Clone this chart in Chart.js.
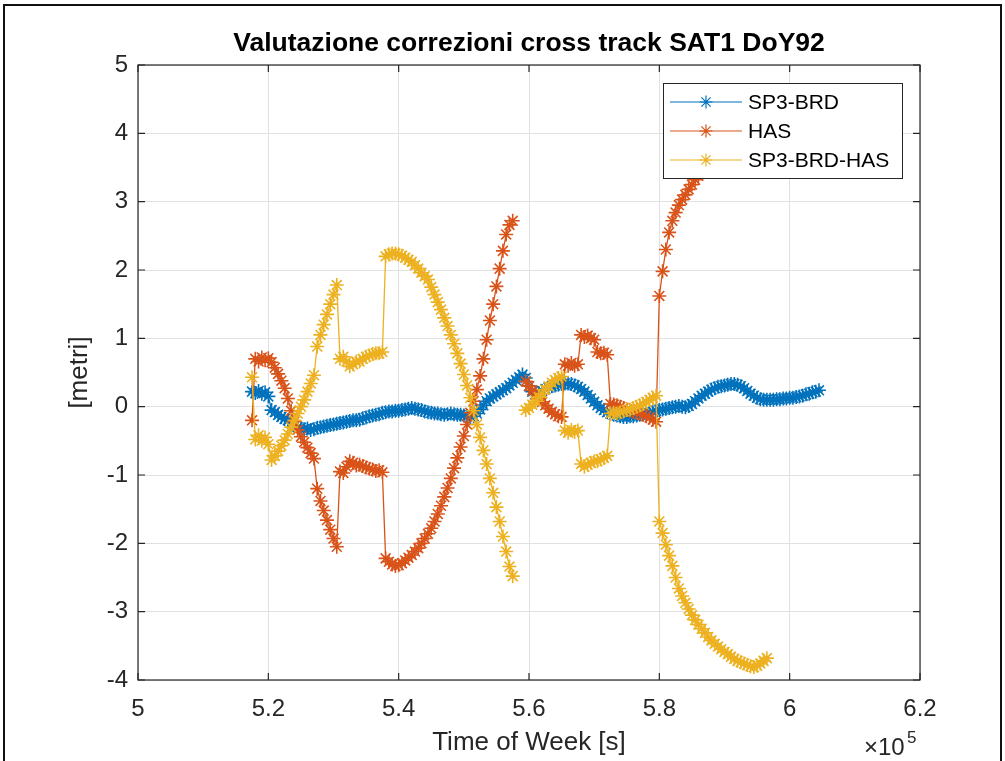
<!DOCTYPE html>
<html>
<head>
<meta charset="utf-8">
<script src="https://cdn.jsdelivr.net/npm/chart.js@4.4.1/dist/chart.umd.min.js"></script>
<style>
    html, body { margin: 0; padding: 0; background: #ffffff; }
    #wrap { width: 1005px; height: 761px; }
</style>
</head>
<body>
<div id="wrap">
    <canvas id="crossTrackChart" width="1005" height="761"></canvas>
</div>
<script>

// time of week [s]
let tow = [
    517500, 518000, 518500, 519000, 519500, 520000, 520500, 521000, 521500, 522000,
    522500, 523000, 523500, 524000, 524500, 525000, 525500, 526000, 526500, 527000,
    527500, 528000, 528500, 529000, 529500, 530000, 530500, 531000, 531500, 532000,
    532500, 533000, 533500, 534000, 534500, 535000, 535500, 536000, 536500, 537000,
    537500, 538000, 538500, 539000, 539500, 540000, 540500, 541000, 541500, 542000,
    542500, 543000, 543500, 544000, 544500, 545000, 545500, 546000, 546500, 547000,
    547500, 548000, 548500, 549000, 549500, 550000, 550500, 551000, 551500, 552000,
    552500, 553000, 553500, 554000, 554500, 555000, 555500, 556000, 556500, 557000,
    557500, 558000, 558500, 559000, 559500, 560000, 560500, 561000, 561500, 562000,
    562500, 563000, 563500, 564000, 564500, 565000, 565500, 566000, 566500, 567000,
    567500, 568000, 568500, 569000, 569500, 570000, 570500, 571000, 571500, 572000,
    572500, 573000, 573500, 574000, 574500, 575000, 575500, 576000, 576500, 577000,
    577500, 578000, 578500, 579000, 579500, 580000, 580500, 581000, 581500, 582000,
    582500, 583000, 583500, 584000, 584500, 585000, 585500, 586000, 586500, 587000,
    587500, 588000, 588500, 589000, 589500, 590000, 590500, 591000, 591500, 592000,
    592500, 593000, 593500, 594000, 594500, 595000, 595500, 596000, 596500, 597000,
    597500, 598000, 598500, 599000, 599500, 600000, 600500, 601000, 601500, 602000,
    602500, 603000, 603500, 604000, 604500
];

// SP3-BRD [m]
let sp3Brd = [
    0.22, 0.20, 0.23, 0.19, 0.21, 0.15, -0.05, -0.08, -0.12, -0.15,
    -0.18, -0.20, -0.24, -0.27, -0.30, -0.31, -0.33, -0.32, -0.34, -0.33,
    -0.31, -0.30, -0.29, -0.28, -0.27, -0.26, -0.25, -0.24, -0.23, -0.22,
    -0.21, -0.20, -0.20, -0.19, -0.17, -0.16, -0.14, -0.13, -0.12, -0.11,
    -0.09, -0.08, -0.07, -0.07, -0.06, -0.06, -0.05, -0.04, -0.03, -0.02,
    -0.03, -0.04, -0.05, -0.07, -0.08, -0.09, -0.10, -0.10, -0.11, -0.12,
    -0.11, -0.10, -0.11, -0.12, -0.12, -0.13, -0.14, -0.15, -0.14, -0.10,
    -0.04, 0.02, 0.08, 0.12, 0.15, 0.18, 0.21, 0.24, 0.27, 0.31,
    0.35, 0.39, 0.43, 0.47, 0.42, 0.30, 0.22, 0.18, 0.20, 0.23,
    0.26, 0.28, 0.30, 0.31, 0.32, 0.33, 0.34, 0.34, 0.33, 0.31,
    0.29, 0.26, 0.22, 0.17, 0.12, 0.07, 0.02, -0.02, -0.05, -0.08,
    -0.10, -0.12, -0.13, -0.14, -0.15, -0.15, -0.14, -0.14, -0.13, -0.12,
    -0.11, -0.10, -0.09, -0.08, -0.06, -0.05, -0.04, -0.03, -0.02, -0.01,
    0.00, 0.01, 0.00, -0.01, 0.01, 0.04, 0.08, 0.12, 0.16, 0.19,
    0.22, 0.25, 0.27, 0.29, 0.30, 0.31, 0.32, 0.33, 0.33, 0.32,
    0.30, 0.27, 0.23, 0.19, 0.16, 0.13, 0.11, 0.10, 0.10, 0.10,
    0.10, 0.11, 0.11, 0.12, 0.12, 0.13, 0.13, 0.14, 0.15, 0.16,
    0.18, 0.19, 0.21, 0.22, 0.24
];

// HAS [m]
let has = [
    -0.20, 0.70, 0.66, 0.72, 0.68, 0.71, 0.65, 0.57, 0.48, 0.38,
    0.27, 0.12, -0.06, -0.22, -0.34, -0.44, -0.52, -0.60, -0.68, -0.76,
    -1.20, -1.38, -1.52, -1.66, -1.80, -1.93, -2.05, -0.95, -0.97, -0.88,
    -0.80, -0.82, -0.86, -0.85, -0.87, -0.89, -0.91, -0.92, -0.94, -0.93,
    -0.96, -2.22, -2.27, -2.31, -2.33, -2.32, -2.29, -2.25, -2.21, -2.17,
    -2.12, -2.07, -2.00, -1.93, -1.86, -1.78, -1.68, -1.57, -1.45, -1.32,
    -1.19, -1.05, -0.90, -0.75, -0.59, -0.43, -0.26, -0.09, 0.08, 0.25,
    0.45, 0.70, 0.98, 1.26, 1.50, 1.76, 2.02, 2.28, 2.52, 2.66,
    2.72, null, null, null, 0.37, 0.30, 0.24, 0.18, 0.12, 0.07,
    0.02, -0.03, -0.08, -0.11, -0.14, -0.15, 0.62, 0.60, 0.64, 0.60,
    0.62, 1.05, 1.02, 1.04, 1.00, 0.98, 0.80, 0.78, 0.79, 0.76,
    0.04, 0.03, 0.02, 0.00, -0.02, -0.04, -0.06, -0.07, -0.09, -0.10,
    -0.12, -0.14, -0.16, -0.19, -0.22, 1.62, 1.98, 2.30, 2.55, 2.72,
    2.84, 2.95, 3.03, 3.10, 3.18, 3.25, 3.32, 3.38, 3.44, 3.50,
    3.55, 3.60, 3.65, 3.70, 3.74, 3.78, 3.82, 3.85, 3.88, 3.91,
    3.93, 3.95, 3.97, 3.98, 3.98, 3.97, 3.94, 3.90, 3.86, null,
    null, null, null, null, null, null, null, null, null, null,
    null, null, null, null, null
];

// SP3-BRD-HAS [m]
let sp3BrdHas = [
    0.43, -0.48, -0.42, -0.50, -0.45, -0.55, -0.78, -0.72, -0.65, -0.57,
    -0.49, -0.40, -0.30, -0.20, -0.10, 0.00, 0.10, 0.22, 0.34, 0.46,
    0.88, 1.05, 1.20, 1.35, 1.50, 1.64, 1.78, 0.70, 0.73, 0.66,
    0.59, 0.62, 0.66, 0.66, 0.70, 0.73, 0.75, 0.77, 0.78, 0.78,
    0.80, 2.20, 2.23, 2.24, 2.24, 2.23, 2.21, 2.18, 2.15, 2.12,
    2.07, 2.02, 1.96, 1.91, 1.86, 1.75, 1.64, 1.53, 1.42, 1.30,
    1.18, 1.05, 0.92, 0.78, 0.63, 0.47, 0.31, 0.13, -0.06, -0.26,
    -0.45, -0.64, -0.84, -1.05, -1.26, -1.47, -1.68, -1.90, -2.12, -2.34,
    -2.48, null, null, null, -0.05, -0.02, 0.03, 0.08, 0.14, 0.19,
    0.25, 0.30, 0.35, 0.39, 0.42, 0.44, -0.35, -0.38, -0.34, -0.37,
    -0.35, -0.84, -0.88, -0.85, -0.82, -0.80, -0.80, -0.77, -0.75, -0.72,
    -0.10, -0.09, -0.10, -0.08, -0.07, -0.05, -0.04, -0.02, 0.00, 0.02,
    0.04, 0.07, 0.10, 0.13, 0.16, -1.68, -1.85, -2.02, -2.18, -2.33,
    -2.50, -2.66, -2.77, -2.87, -2.96, -3.05, -3.12, -3.19, -3.25, -3.31,
    -3.37, -3.42, -3.47, -3.51, -3.55, -3.59, -3.62, -3.66, -3.69, -3.72,
    -3.74, -3.76, -3.78, -3.80, -3.81, -3.79, -3.76, -3.72, -3.68, null,
    null, null, null, null, null, null, null, null, null, null,
    null, null, null, null, null
];

let seriesNames = ["SP3-BRD", "HAS", "SP3-BRD-HAS"];
let seriesColors = ["#0072BD", "#D95319", "#EDB120"];

let xRange = [500000, 620000];
let xStep = 20000;
let yRange = [-4, 5];
let yStep = 1;

let chartTitle = "Valutazione correzioni cross track SAT1 DoY92";
let xLabel = "Time of Week [s]";
let yLabel = "[metri]";

let FONT = "'Liberation Sans', Arial, Helvetica, sans-serif";
let AXIS_COLOR = "#262626";

function toPoints(values)
{
    return tow.map((t, i) => ({ x: t, y: values[i] }));
}

function makeDataset(index, values, order)
{
    return {
        label: seriesNames[index],
        data: toPoints(values),
        borderColor: seriesColors[index],
        backgroundColor: seriesColors[index],
        borderWidth: 1.3,
        pointStyle: "star",
        pointRadius: 7,
        pointHoverRadius: 7,
        pointBorderWidth: 1.6,
        pointBorderColor: seriesColors[index],
        tension: 0,
        spanGaps: false,
        order: order
    };
}

function drawStar(ctx, x, y, r)
{
    let d = r * Math.SQRT1_2;
    ctx.beginPath();
    ctx.moveTo(x - r, y); ctx.lineTo(x + r, y);
    ctx.moveTo(x, y - r); ctx.lineTo(x, y + r);
    ctx.moveTo(x - d, y - d); ctx.lineTo(x + d, y + d);
    ctx.moveTo(x - d, y + d); ctx.lineTo(x + d, y - d);
    ctx.stroke();
}

// axes box, inner ticks, texts and legend drawn the MATLAB way
let matlabLook = {
    id: "matlabLook",
    afterDraw(chart)
    {
        let ctx = chart.ctx;
        let a = chart.chartArea;
        let xs = chart.scales.x;
        let ys = chart.scales.y;

        ctx.save();

        // axes box
        ctx.strokeStyle = AXIS_COLOR;
        ctx.lineWidth = 1.2;
        ctx.strokeRect(a.left, a.top, a.right - a.left, a.bottom - a.top);

        // ticks pointing inside, on all four sides
        let tl = 7;
        ctx.beginPath();
        xs.ticks.forEach(t => {
            let px = xs.getPixelForValue(t.value);
            ctx.moveTo(px, a.bottom); ctx.lineTo(px, a.bottom - tl);
            ctx.moveTo(px, a.top); ctx.lineTo(px, a.top + tl);
        });
        ys.ticks.forEach(t => {
            let py = ys.getPixelForValue(t.value);
            ctx.moveTo(a.left, py); ctx.lineTo(a.left + tl, py);
            ctx.moveTo(a.right, py); ctx.lineTo(a.right - tl, py);
        });
        ctx.stroke();

        // title
        let cx = (a.left + a.right) / 2;
        ctx.fillStyle = "#000000";
        ctx.font = "bold 26.5px " + FONT;
        ctx.textAlign = "center";
        ctx.textBaseline = "middle";
        ctx.fillText(chartTitle, cx, 44);

        // axis labels
        ctx.fillStyle = AXIS_COLOR;
        ctx.font = "26px " + FONT;
        ctx.fillText(xLabel, cx, 743);

        ctx.save();
        ctx.translate(80, (a.top + a.bottom) / 2);
        ctx.rotate(-Math.PI / 2);
        ctx.fillText(yLabel, 0, 0);
        ctx.restore();

        // exponent of the x axis
        ctx.textAlign = "left";
        ctx.textBaseline = "alphabetic";
        ctx.font = "24px " + FONT;
        ctx.fillText("\u00d710", 864, 755);
        ctx.font = "17px " + FONT;
        ctx.fillText("5", 907, 743);

        // legend
        let lx = 663, ly = 83, lw = 239, lh = 95;
        ctx.fillStyle = "#ffffff";
        ctx.fillRect(lx, ly, lw, lh);
        ctx.strokeStyle = AXIS_COLOR;
        ctx.lineWidth = 1;
        ctx.strokeRect(lx + 0.5, ly + 0.5, lw, lh);

        let rows = [102, 131, 160];
        ctx.font = "21px " + FONT;
        ctx.textBaseline = "middle";
        seriesNames.forEach((name, i) => {
            ctx.strokeStyle = seriesColors[i];
            ctx.lineWidth = 1.2;
            ctx.beginPath();
            ctx.moveTo(670, rows[i]);
            ctx.lineTo(742, rows[i]);
            ctx.stroke();
            drawStar(ctx, 706, rows[i], 6.5);
            ctx.fillStyle = "#000000";
            ctx.fillText(name, 748, rows[i] + 1);
        });

        // figure frame
        ctx.strokeStyle = "#111111";
        ctx.lineWidth = 2;
        ctx.strokeRect(4, 5, 997, 800);

        ctx.restore();
    }
};

new Chart(
    document.getElementById("crossTrackChart"),
    {
        type: "line",
        data: {
            datasets: [
                makeDataset(0, sp3Brd, 2),
                makeDataset(1, has, 1),
                makeDataset(2, sp3BrdHas, 0)
            ]
        },
        options: {
            responsive: false,
            animation: false,
            events: [],
            layout: {
                padding: { left: 0, top: 65, right: 85, bottom: 0 }
            },
            plugins: {
                legend: { display: false },
                tooltip: { enabled: false },
                title: { display: false }
            },
            scales: {
                x: {
                    type: "linear",
                    min: xRange[0],
                    max: xRange[1],
                    afterFit: scale => { scale.height = 81; },
                    border: { display: false },
                    grid: { color: "#e1e1e1", lineWidth: 1, drawTicks: false },
                    ticks: {
                        stepSize: xStep,
                        autoSkip: false,
                        maxRotation: 0,
                        padding: 15,
                        color: AXIS_COLOR,
                        font: { family: FONT, size: 24 },
                        callback: v => String(Math.round(v / 1e4) / 10)
                    }
                },
                y: {
                    type: "linear",
                    min: yRange[0],
                    max: yRange[1],
                    afterFit: scale => { scale.width = 138; },
                    border: { display: false },
                    grid: { color: "#e1e1e1", lineWidth: 1, drawTicks: false },
                    ticks: {
                        stepSize: yStep,
                        padding: 10,
                        color: AXIS_COLOR,
                        font: { family: FONT, size: 24 }
                    }
                }
            }
        },
        plugins: [matlabLook]
    }
);
</script>
</body>
</html>
